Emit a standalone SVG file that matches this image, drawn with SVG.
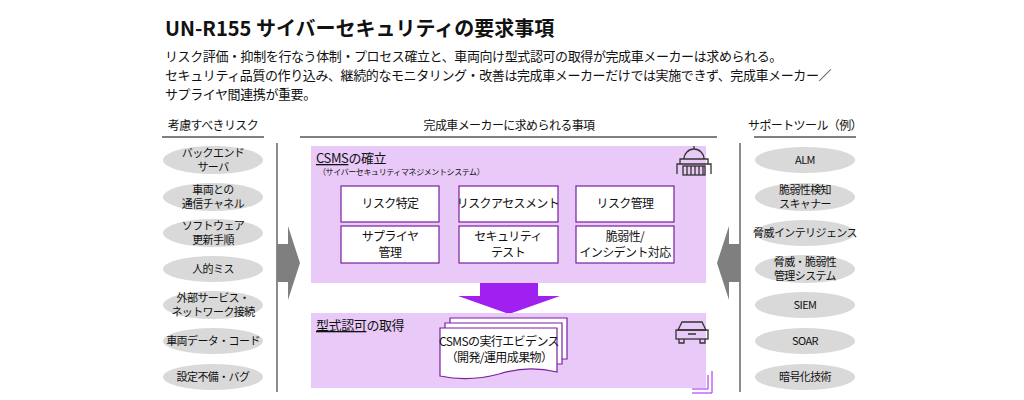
<svg xmlns="http://www.w3.org/2000/svg" width="1024" height="400" viewBox="0 0 1024 400">
<style>
text{font-family:"Noto Sans CJK JP","Noto Sans",sans-serif;fill:#111}
.t{font-size:12px;text-anchor:middle;letter-spacing:-0.6px}
.s{font-size:11px;text-anchor:middle;letter-spacing:-0.6px}
.e{fill:#d9d9d9}
.box{fill:#fff;stroke:#7a1fa2;stroke-width:1.2}
.pan{fill:#e9c9f7}
.ln{stroke:#000;stroke-width:1}
.vl{stroke:#8c8c8c;stroke-width:2}
.ic{fill:none;stroke:#333;stroke-width:1.3}
</style>
<rect width="1024" height="400" fill="#fff"/>
<text x="165" y="36" style="font-size:20px;font-weight:bold">UN-R155 サイバーセキュリティの要求事項</text>
<text x="165" y="61" style="font-size:13px;letter-spacing:-0.4px">リスク評価・抑制を行なう体制・プロセス確立と、車両向け型式認可の取得が完成車メーカーは求められる。</text>
<text x="165" y="80" style="font-size:13px;letter-spacing:-0.4px">セキュリティ品質の作り込み、継続的なモニタリング・改善は完成車メーカーだけでは実施できず、完成車メーカー／</text>
<text x="165" y="99" style="font-size:13px;letter-spacing:-0.4px">サプライヤ間連携が重要。</text>

<g id="connectors">
<line class="ln" x1="162" y1="137" x2="264" y2="137"/>
<line class="ln" x1="300" y1="137" x2="717" y2="137"/>
<line class="ln" x1="754" y1="137" x2="856" y2="137"/>
<line class="vl" x1="277" y1="143" x2="277" y2="392"/>
<line class="vl" x1="740" y1="143" x2="740" y2="392"/>
<polygon points="277,244 288,244 288,226 300,263 288,300 288,282 277,282" fill="#7f7f7f"/>
<polygon points="740,244 729,244 729,226 717,263 729,300 729,282 740,282" fill="#7f7f7f"/>
<polygon points="480,283 538,283 538,296 560,296 509,314 458,296 480,296" fill="#a020f0"/>
</g>

<g id="left">
<text class="t" x="213" y="130">考慮すべきリスク</text>
<ellipse class="e" cx="213" cy="160" rx="50" ry="14"/><text class="s" x="213" y="157">バックエンド</text><text class="s" x="213" y="171">サーバ</text>
<ellipse class="e" cx="213" cy="197" rx="50" ry="14"/><text class="s" x="213" y="194">車両との</text><text class="s" x="213" y="208">通信チャネル</text>
<ellipse class="e" cx="213" cy="233" rx="50" ry="14"/><text class="s" x="213" y="230">ソフトウェア</text><text class="s" x="213" y="244">更新手順</text>
<ellipse class="e" cx="213" cy="269" rx="50" ry="13"/><text class="s" x="213" y="273">人的ミス</text>
<ellipse class="e" cx="213" cy="305" rx="50" ry="14"/><text class="s" x="213" y="302">外部サービス・</text><text class="s" x="213" y="316">ネットワーク接続</text>
<ellipse class="e" cx="213" cy="341" rx="50" ry="13"/><text class="s" x="213" y="345">車両データ・コード</text>
<ellipse class="e" cx="213" cy="377" rx="50" ry="13"/><text class="s" x="213" y="381">設定不備・バグ</text>
</g>

<g id="center">
<text class="t" x="509" y="130">完成車メーカーに求められる事項</text>
<rect class="pan" x="311" y="146" width="395" height="137"/>
<text x="316" y="163" style="font-size:13px;letter-spacing:-0.4px"><tspan text-decoration="underline">CSMS</tspan>の確立</text>
<text x="318" y="175" style="font-size:8px;letter-spacing:-0.4px">（サイバーセキュリティマネジメントシステム）</text>
<g class="ic"><path d="M677 174 v-10 h34 v10 M680 164 v-5 h28 v5 M684 159 a10 10 0 0 1 20 0 M694 149 v-3"/><rect x="683" y="166" width="22" height="9"/><path d="M687 166v9M691 166v9M695 166v9M699 166v9M703 166v9"/></g>
<rect class="box" x="341" y="186" width="98" height="36"/><text class="t" x="390" y="208">リスク特定</text>
<rect class="box" x="459" y="186" width="99" height="36"/><text class="t" x="508" y="208">リスクアセスメント</text>
<rect class="box" x="576" y="186" width="98" height="36"/><text class="t" x="625" y="208">リスク管理</text>
<rect class="box" x="341" y="226" width="98" height="37"/><text class="t" x="390" y="241">サプライヤ</text><text class="t" x="390" y="257">管理</text>
<rect class="box" x="459" y="226" width="99" height="37"/><text class="t" x="508" y="241">セキュリティ</text><text class="t" x="508" y="257">テスト</text>
<rect class="box" x="576" y="226" width="98" height="37"/><text class="t" x="625" y="241">脆弱性/</text><text class="t" x="625" y="257">インシデント対応</text>
<rect class="pan" x="311" y="313" width="395" height="75"/>
<text x="316" y="330" style="font-size:13px;letter-spacing:-0.4px"><tspan text-decoration="underline">型式認可</tspan>の取得</text>
<g class="ic"><path d="M678 330 l4 -8 h20 l4 8 z"/><rect x="676" y="330" width="32" height="9"/><path d="M679 339v4h5v-4M700 339v4h5v-4M688 334h8"/></g>
<path class="box" d="M450 318 h117 v41 h-117z"/>
<path class="box" d="M445 323 h117 v41 h-117z"/>
<path class="box" d="M440 328 h117 v44 q-30 -7 -58 2 q-30 8 -59 2z"/>
<text class="t" x="499" y="346">CSMSの実行エビデンス</text>
<text class="t" x="499" y="362">（開発/運用成果物）</text>
<path d="M712 371 v22 h-20 M708 375 v14 h-16" fill="none" stroke="#a020f0" stroke-width="1"/>
</g>

<g id="right">
<text class="t" x="805" y="130">サポートツール（例）</text>
<ellipse class="e" cx="805" cy="160" rx="50" ry="13"/><text class="s" x="805" y="164">ALM</text>
<ellipse class="e" cx="805" cy="197" rx="50" ry="14"/><text class="s" x="805" y="194">脆弱性検知</text><text class="s" x="805" y="208">スキャナー</text>
<ellipse class="e" cx="805" cy="233" rx="50" ry="13"/><text class="s" x="805" y="237">脅威インテリジェンス</text>
<ellipse class="e" cx="805" cy="269" rx="50" ry="14"/><text class="s" x="805" y="266">脅威・脆弱性</text><text class="s" x="805" y="280">管理システム</text>
<ellipse class="e" cx="805" cy="305" rx="50" ry="13"/><text class="s" x="805" y="309">SIEM</text>
<ellipse class="e" cx="805" cy="341" rx="50" ry="13"/><text class="s" x="805" y="345">SOAR</text>
<ellipse class="e" cx="805" cy="377" rx="50" ry="13"/><text class="s" x="805" y="381">暗号化技術</text>
</g>
</svg>
